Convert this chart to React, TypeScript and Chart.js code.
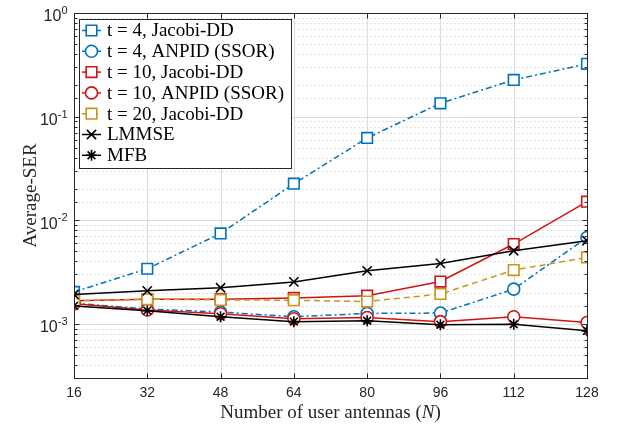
import React, { useEffect, useRef } from 'react';
import { Chart, registerables } from 'chart.js';

Chart.register(...registerables);

// ---------------- data ----------------
const antennas = [16, 32, 48, 64, 80, 96, 112, 128];
const xTickValues = [16, 32, 48, 64, 80, 96, 112, 128];

const jacobiT4 = [2.03e-3, 3.4e-3, 7.45e-3, 0.0225, 0.0622, 0.1345, 0.226, 0.323];
const anpidT4 = [1.58e-3, 1.39e-3, 1.3e-3, 1.17e-3, 1.26e-3, 1.27e-3, 2.16e-3, 6.82e-3];
const jacobiT10 = [1.67e-3, 1.73e-3, 1.73e-3, 1.78e-3, 1.87e-3, 2.56e-3, 5.89e-3, 0.0151];
const anpidT10 = [1.56e-3, 1.36e-3, 1.25e-3, 1.12e-3, 1.15e-3, 1.05e-3, 1.17e-3, 1.03e-3];
const jacobiT20 = [1.67e-3, 1.73e-3, 1.7e-3, 1.69e-3, 1.64e-3, 1.94e-3, 3.3e-3, 4.37e-3];
const lmmse = [1.92e-3, 2.08e-3, 2.23e-3, 2.54e-3, 3.25e-3, 3.83e-3, 5.07e-3, 6.34e-3];
const mfb = [1.49e-3, 1.34e-3, 1.17e-3, 1.05e-3, 1.07e-3, 0.98e-3, 0.99e-3, 0.855e-3];

const seriesLabels = [
  't = 4, Jacobi-DD',
  't = 4, ANPID (SSOR)',
  't = 10, Jacobi-DD',
  't = 10, ANPID (SSOR)',
  't = 20, Jacobi-DD',
  'LMMSE',
  'MFB',
];
const seriesValues = [jacobiT4, anpidT4, jacobiT10, anpidT10, jacobiT20, lmmse, mfb];

const xTitle = 'Number of user antennas (';
const xTitleVar = 'N';
const xTitleEnd = ')';
const yTitle = 'Average-SER';
const yMin = 3e-4;
const yMax = 1;

// ---------------- styles ----------------
const BLUE = '#0072BD';
const RED = '#D01414';
const GOLD = '#C8961E';
const BLACK = '#000000';
const AXIS = '#262626';

const seriesStyles = [
  { color: BLUE, dash: [6, 3, 2, 3], marker: 'rect', r: 7.5 },
  { color: BLUE, dash: [6, 3, 2, 3], marker: 'circle', r: 6 },
  { color: RED, dash: [], marker: 'rect', r: 7.5 },
  { color: RED, dash: [], marker: 'circle', r: 6 },
  { color: GOLD, dash: [6, 4], marker: 'rect', r: 7.5 },
  { color: BLACK, dash: [], marker: 'crossRot', r: 6.5 },
  { color: BLACK, dash: [], marker: 'star', r: 5.5 },
];

const SANS = '"Liberation Sans", Arial, sans-serif';
const SERIF = '"Liberation Serif", "Times New Roman", serif';

function drawMarker(ctx: CanvasRenderingContext2D, style: string, x: number, y: number, r: number, color: string) {
  ctx.save();
  ctx.setLineDash([]);
  ctx.lineWidth = 1.6;
  ctx.strokeStyle = color;
  ctx.fillStyle = '#ffffff';
  ctx.beginPath();
  if (style === 'rect') {
    const s = r * Math.SQRT1_2;
    ctx.rect(x - s, y - s, 2 * s, 2 * s);
    ctx.fill();
    ctx.stroke();
  } else if (style === 'circle') {
    ctx.arc(x, y, r, 0, Math.PI * 2);
    ctx.fill();
    ctx.stroke();
  } else {
    const d = r * Math.SQRT1_2;
    ctx.moveTo(x - d, y - d);
    ctx.lineTo(x + d, y + d);
    ctx.moveTo(x - d, y + d);
    ctx.lineTo(x + d, y - d);
    if (style === 'star') {
      ctx.moveTo(x, y - r);
      ctx.lineTo(x, y + r);
      ctx.moveTo(x - r, y);
      ctx.lineTo(x + r, y);
    }
    ctx.stroke();
  }
  ctx.restore();
}

const isDecade = (v: number) => Math.abs(Math.log10(v) - Math.round(Math.log10(v))) < 1e-9;

const matlabPlugin = {
  id: 'matlabAxes',
  beforeDatasetsDraw(chart: any) {
    const { ctx, chartArea: a, scales } = chart;
    const L = Math.round(a.left), R = Math.round(a.right), T = Math.round(a.top), B = Math.round(a.bottom);
    ctx.save();
    // y grid
    for (const t of scales.y.ticks) {
      const py = Math.round(scales.y.getPixelForValue(t.value)) + 0.5;
      ctx.beginPath();
      if (isDecade(t.value)) {
        ctx.setLineDash([]);
        ctx.strokeStyle = '#dcdcdc';
      } else {
        ctx.setLineDash([2, 2]);
        ctx.strokeStyle = '#e2e2e2';
      }
      ctx.lineWidth = 1;
      ctx.moveTo(L, py);
      ctx.lineTo(R, py);
      ctx.stroke();
    }
    // x grid
    ctx.setLineDash([]);
    ctx.strokeStyle = '#dcdcdc';
    for (const t of scales.x.ticks) {
      const px = Math.round(scales.x.getPixelForValue(t.value)) + 0.5;
      ctx.beginPath();
      ctx.moveTo(px, T);
      ctx.lineTo(px, B);
      ctx.stroke();
    }
    ctx.restore();
  },
  afterDraw(chart: any) {
    const { ctx, chartArea: a, scales } = chart;
    const L = Math.round(a.left) + 0.5, R = Math.round(a.right) + 0.5;
    const T = Math.round(a.top) + 0.5, B = Math.round(a.bottom) + 0.5;
    ctx.save();
    ctx.setLineDash([]);
    // frame
    ctx.strokeStyle = AXIS;
    ctx.lineWidth = 1;
    ctx.strokeRect(L, T, R - L, B - T);
    // x ticks (inward, bottom and top)
    ctx.beginPath();
    for (const t of scales.x.ticks) {
      const px = Math.round(scales.x.getPixelForValue(t.value)) + 0.5;
      ctx.moveTo(px, B);
      ctx.lineTo(px, B - 5);
      ctx.moveTo(px, T);
      ctx.lineTo(px, T + 5);
    }
    // y ticks (inward, left and right)
    for (const t of scales.y.ticks) {
      const py = Math.round(scales.y.getPixelForValue(t.value)) + 0.5;
      const len = isDecade(t.value) ? 5 : 3;
      ctx.moveTo(L, py);
      ctx.lineTo(L + len, py);
      ctx.moveTo(R, py);
      ctx.lineTo(R - len, py);
    }
    ctx.stroke();

    // y tick labels 10^k
    ctx.fillStyle = AXIS;
    for (const t of scales.y.ticks) {
      if (!isDecade(t.value)) continue;
      const k = Math.round(Math.log10(t.value));
      const py = scales.y.getPixelForValue(t.value);
      const exp = String(k);
      ctx.font = `11px ${SANS}`;
      const we = ctx.measureText(exp).width;
      ctx.font = `16px ${SANS}`;
      const wb = ctx.measureText('10').width;
      const right = L - 7;
      ctx.textAlign = 'left';
      ctx.textBaseline = 'middle';
      ctx.fillText('10', right - we - wb, py + 4);
      ctx.font = `11px ${SANS}`;
      ctx.textBaseline = 'alphabetic';
      ctx.fillText(exp, right - we, py + 1);
    }

    // axis titles
    ctx.fillStyle = AXIS;
    ctx.textBaseline = 'alphabetic';
    ctx.font = `19px ${SERIF}`;
    const w1 = ctx.measureText(xTitle).width;
    const w3 = ctx.measureText(xTitleEnd).width;
    ctx.font = `italic 19px ${SERIF}`;
    const w2 = ctx.measureText(xTitleVar).width;
    const total = w1 + w2 + w3;
    const cx = (a.left + a.right) / 2 - total / 2;
    const by = 418;
    ctx.textAlign = 'left';
    ctx.font = `19px ${SERIF}`;
    ctx.fillText(xTitle, cx, by);
    ctx.font = `italic 19px ${SERIF}`;
    ctx.fillText(xTitleVar, cx + w1, by);
    ctx.font = `19px ${SERIF}`;
    ctx.fillText(xTitleEnd, cx + w1 + w2, by);

    ctx.save();
    ctx.translate(36, (a.top + a.bottom) / 2);
    ctx.rotate(-Math.PI / 2);
    ctx.textAlign = 'center';
    ctx.font = `19px ${SERIF}`;
    ctx.fillText(yTitle, 0, 0);
    ctx.restore();

    // legend
    const lx = 79.5, ly = 19.5, lw = 212, lh = 149;
    ctx.fillStyle = '#ffffff';
    ctx.fillRect(lx, ly, lw, lh);
    ctx.strokeStyle = AXIS;
    ctx.lineWidth = 1;
    ctx.strokeRect(lx, ly, lw, lh);
    chart.data.datasets.forEach((ds: any, i: number) => {
      const st = seriesStyles[i];
      const yy = 30.5 + i * 20.8;
      ctx.save();
      ctx.strokeStyle = st.color;
      ctx.lineWidth = 1.5;
      ctx.setLineDash(st.dash);
      ctx.beginPath();
      ctx.moveTo(82, yy);
      ctx.lineTo(101, yy);
      ctx.stroke();
      ctx.restore();
      drawMarker(ctx, st.marker, 91.5, yy, st.r, st.color);
      ctx.fillStyle = '#000000';
      ctx.font = `19px ${SERIF}`;
      ctx.textAlign = 'left';
      ctx.textBaseline = 'middle';
      ctx.fillText(ds.label, 107, yy + 1);
    });
    ctx.restore();
  },
};

export default function App() {
  const ref = useRef<HTMLCanvasElement | null>(null);
  useEffect(() => {
    document.body.style.margin = '0';
    const canvas = ref.current;
    if (!canvas) return;
    const n = seriesValues.length;
    const datasets = seriesValues.map((vals, i) => {
      const st = seriesStyles[i];
      return {
        label: seriesLabels[i],
        data: antennas.map((x, j) => ({ x, y: vals[j] })),
        borderColor: st.color,
        backgroundColor: st.color,
        borderWidth: 1.5,
        borderDash: st.dash,
        pointStyle: st.marker,
        pointRadius: st.r,
        pointHoverRadius: st.r,
        pointBorderColor: st.color,
        pointBackgroundColor: '#ffffff',
        pointBorderWidth: 1.6,
        tension: 0,
        fill: false,
        order: n - 1 - i,
      };
    });
    const chart = new Chart(canvas, {
      type: 'line',
      data: { datasets },
      options: {
        responsive: false,
        animation: false,
        devicePixelRatio: 1,
        layout: { padding: { top: 13, right: 32, left: 0, bottom: 0 } },
        plugins: { legend: { display: false }, tooltip: { enabled: false } },
        scales: {
          x: {
            type: 'linear',
            min: 16,
            max: 128,
            afterBuildTicks: (s: any) => {
              s.ticks = xTickValues.map((v) => ({ value: v }));
            },
            ticks: {
              autoSkip: false,
              maxRotation: 0,
              padding: 7,
              color: AXIS,
              font: { family: SANS, size: 14 },
            },
            grid: { display: false, drawTicks: false },
            border: { display: false },
            afterFit: (s: any) => {
              s.height = 54;
            },
          },
          y: {
            type: 'logarithmic',
            min: yMin,
            max: yMax,
            ticks: { display: false },
            grid: { display: false, drawTicks: false },
            border: { display: false },
            afterFit: (s: any) => {
              s.width = 74;
            },
          },
        },
      },
      plugins: [matlabPlugin],
    });
    return () => chart.destroy();
  }, []);
  return (
    <div style={{ position: 'fixed', left: 0, top: 0, width: 619, height: 432, background: '#fff' }}>
      <canvas ref={ref} width={619} height={432} />
    </div>
  );
}
